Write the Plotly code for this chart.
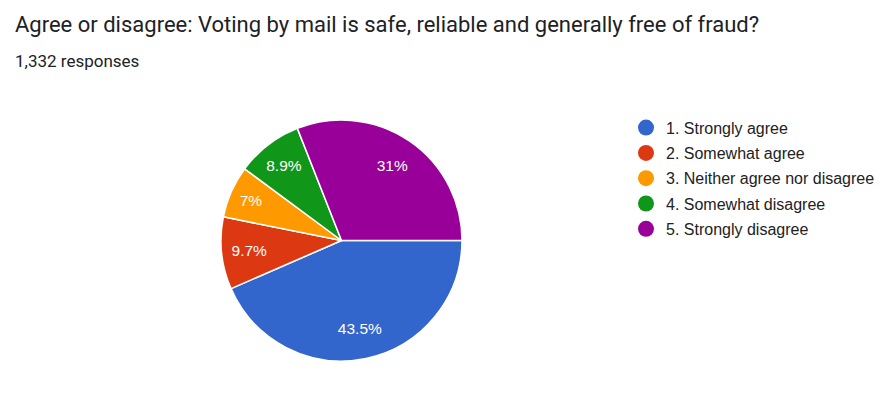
import plotly.graph_objects as go

title = "Agree or disagree: Voting by mail is safe, reliable and generally free of fraud?"
subtitle = "1,332 responses"
labels = ["1. Strongly agree", "2. Somewhat agree", "3. Neither agree nor disagree",
          "4. Somewhat disagree", "5. Strongly disagree"]
percents = [43.5, 9.7, 7, 8.9, 31]
colors = ["#3366cc", "#dc3912", "#ff9900", "#109618", "#990099"]

W, H = 894, 396
OFF = 8  # default page body margin
cx, cy, r = 341.5 - OFF, 240.5 - OFF, 120.5
dom = dict(x=[(cx - r) / W, (cx + r) / W], y=[1 - (cy + r) / H, 1 - (cy - r) / H])

fig = go.Figure()
# coloured slices
fig.add_trace(go.Pie(
    labels=labels, values=percents, sort=False, direction="clockwise", rotation=90,
    marker=dict(colors=colors, line=dict(color="white", width=1.5)),
    textinfo="none", showlegend=False, hoverinfo="label+percent", domain=dom,
))
# transparent ring carrying the percentage labels (places them at ~3/4 radius)
fig.add_trace(go.Pie(
    labels=labels, values=percents, sort=False, direction="clockwise", rotation=90,
    hole=0.5, marker=dict(colors=["rgba(0,0,0,0)"] * len(labels), line=dict(width=0)),
    texttemplate="%{value}%", textposition="inside", insidetextorientation="horizontal",
    insidetextfont=dict(family="Arial, Liberation Sans", size=15.5, color="white"),
    showlegend=False, hoverinfo="skip", domain=dom,
))
for i, (lab, col) in enumerate(zip(labels, colors)):
    fig.add_trace(go.Scatter(x=[None], y=[None], mode="markers", name=lab,
                             legendgroup=str(i),
                             marker=dict(color=col, size=16, symbol="circle")))

fig.update_layout(
    width=W, height=H, margin=dict(l=0, r=0, t=0, b=0),
    paper_bgcolor="white", plot_bgcolor="white",
    xaxis=dict(visible=False), yaxis=dict(visible=False),
    uniformtext=dict(minsize=15.5, mode="show"),
    legend=dict(x=(626 - OFF) / W, y=1 - (110.7 - OFF) / H, xanchor="left", yanchor="top",
                font=dict(family="Arial, Liberation Sans", size=16, color="#222222"),
                tracegroupgap=1.5, itemwidth=30, bgcolor="rgba(0,0,0,0)"),
    annotations=[
        dict(text=title, x=5 / W, y=1 - (24 - OFF) / H, xref="paper", yref="paper",
             xanchor="left", yanchor="middle", showarrow=False,
             font=dict(family="Roboto", size=22, color="#202124")),
        dict(text=subtitle, x=5 / W, y=1 - (61.3 - OFF) / H, xref="paper", yref="paper",
             xanchor="left", yanchor="middle", showarrow=False,
             font=dict(family="Roboto", size=17, color="#202124")),
    ],
)
fig.write_html("out.html")
